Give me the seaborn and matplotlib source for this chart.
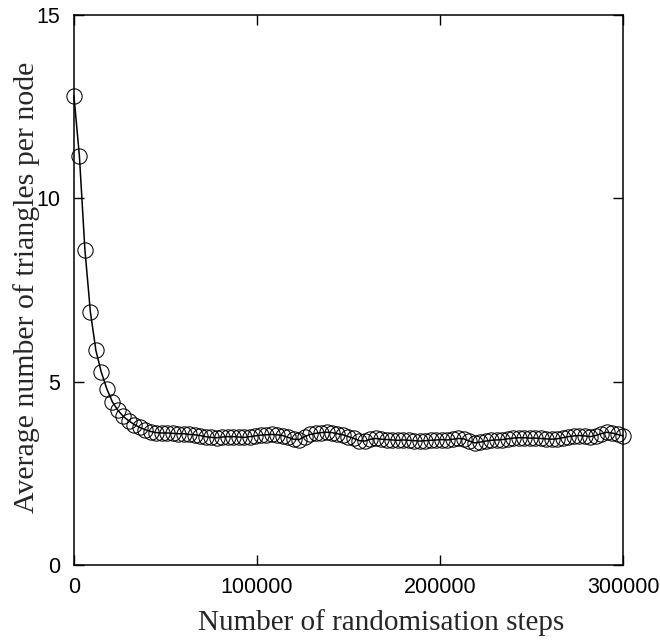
import numpy as np
import pandas as pd
import matplotlib
matplotlib.use("Agg")
import matplotlib.pyplot as plt
import seaborn as sns

# Randomisation steps (sampled every 3000 steps) and mean triangles per node
steps = list(range(0, 300001, 3000))
triangles = [
    # 0 - 42000: initial decay
    12.8, 11.15, 8.6, 6.9, 5.85, 5.25, 4.8, 4.45, 4.22, 4.05,
    3.93, 3.83, 3.75, 3.69, 3.64,
    # 45000 - 66000
    3.61, 3.6, 3.6, 3.59, 3.58, 3.58, 3.56, 3.55,
    # 69000 - 168000
    3.53, 3.5, 3.48, 3.47, 3.49, 3.5, 3.5, 3.49, 3.48, 3.5,
    3.52, 3.54, 3.55, 3.56, 3.55, 3.53, 3.48, 3.43, 3.42, 3.5,
    3.56, 3.59, 3.61, 3.62, 3.61, 3.58, 3.55, 3.5, 3.45, 3.39,
    3.38, 3.43, 3.45, 3.43,
    # 171000 - 210000
    3.42, 3.41, 3.4, 3.41, 3.4, 3.39, 3.38, 3.39, 3.4, 3.41,
    3.42, 3.41, 3.43, 3.45,
    # 213000 - 222000
    3.44, 3.38, 3.33, 3.35,
    # 225000 - 261000
    3.38, 3.4, 3.41, 3.42, 3.44, 3.46, 3.47, 3.47, 3.46, 3.46,
    3.45, 3.44, 3.43,
    # 264000 - 300000
    3.44, 3.47, 3.5, 3.52, 3.53, 3.52, 3.5, 3.53, 3.58, 3.62,
    3.6, 3.56, 3.52,
]
x_ticks = [0, 100000, 200000, 300000]
y_ticks = [0, 5, 10, 15]

df = pd.DataFrame({"steps": steps, "triangles": triangles})

sns.set_style("ticks")
plt.rcParams["font.family"] = ["Liberation Sans", "DejaVu Sans"]

fig = plt.figure(figsize=(6.6, 6.41), dpi=100)
ax = fig.add_axes([0.112, 0.1186, 0.832, 0.858])

sns.lineplot(
    data=df, x="steps", y="triangles", ax=ax,
    color="black", linewidth=1.1,
    marker="o", markersize=11, markerfacecolor="none",
    markeredgecolor="black", markeredgewidth=0.75,
    clip_on=False,
)

ax.set_xlim(0, 300000)
ax.set_ylim(0, 15)
ax.set_xticks(x_ticks)
ax.set_yticks(y_ticks)
ax.set_xticklabels([str(v) for v in x_ticks])
ax.set_yticklabels([str(v) for v in y_ticks])

for side in ["top", "right", "bottom", "left"]:
    ax.spines[side].set_visible(True)
    ax.spines[side].set_linewidth(1.1)
    ax.spines[side].set_color("black")

ax.tick_params(direction="in", length=7, width=1.0, top=True, right=True,
               labelsize=15.5, colors="black")
ax.tick_params(axis="y", pad=10)
ax.tick_params(axis="x", pad=9)

serif = ["Liberation Serif", "DejaVu Serif"]
ax.set_xlabel("Number of randomisation steps", fontsize=21, family=serif)
ax.set_ylabel("Average number of triangles per node", fontsize=21.5,
              family=serif)
ax.xaxis.set_label_coords(0.559, -0.08)
ax.yaxis.set_label_coords(-0.062, 0.505)

fig.savefig("out.png", dpi=100, facecolor="white")
